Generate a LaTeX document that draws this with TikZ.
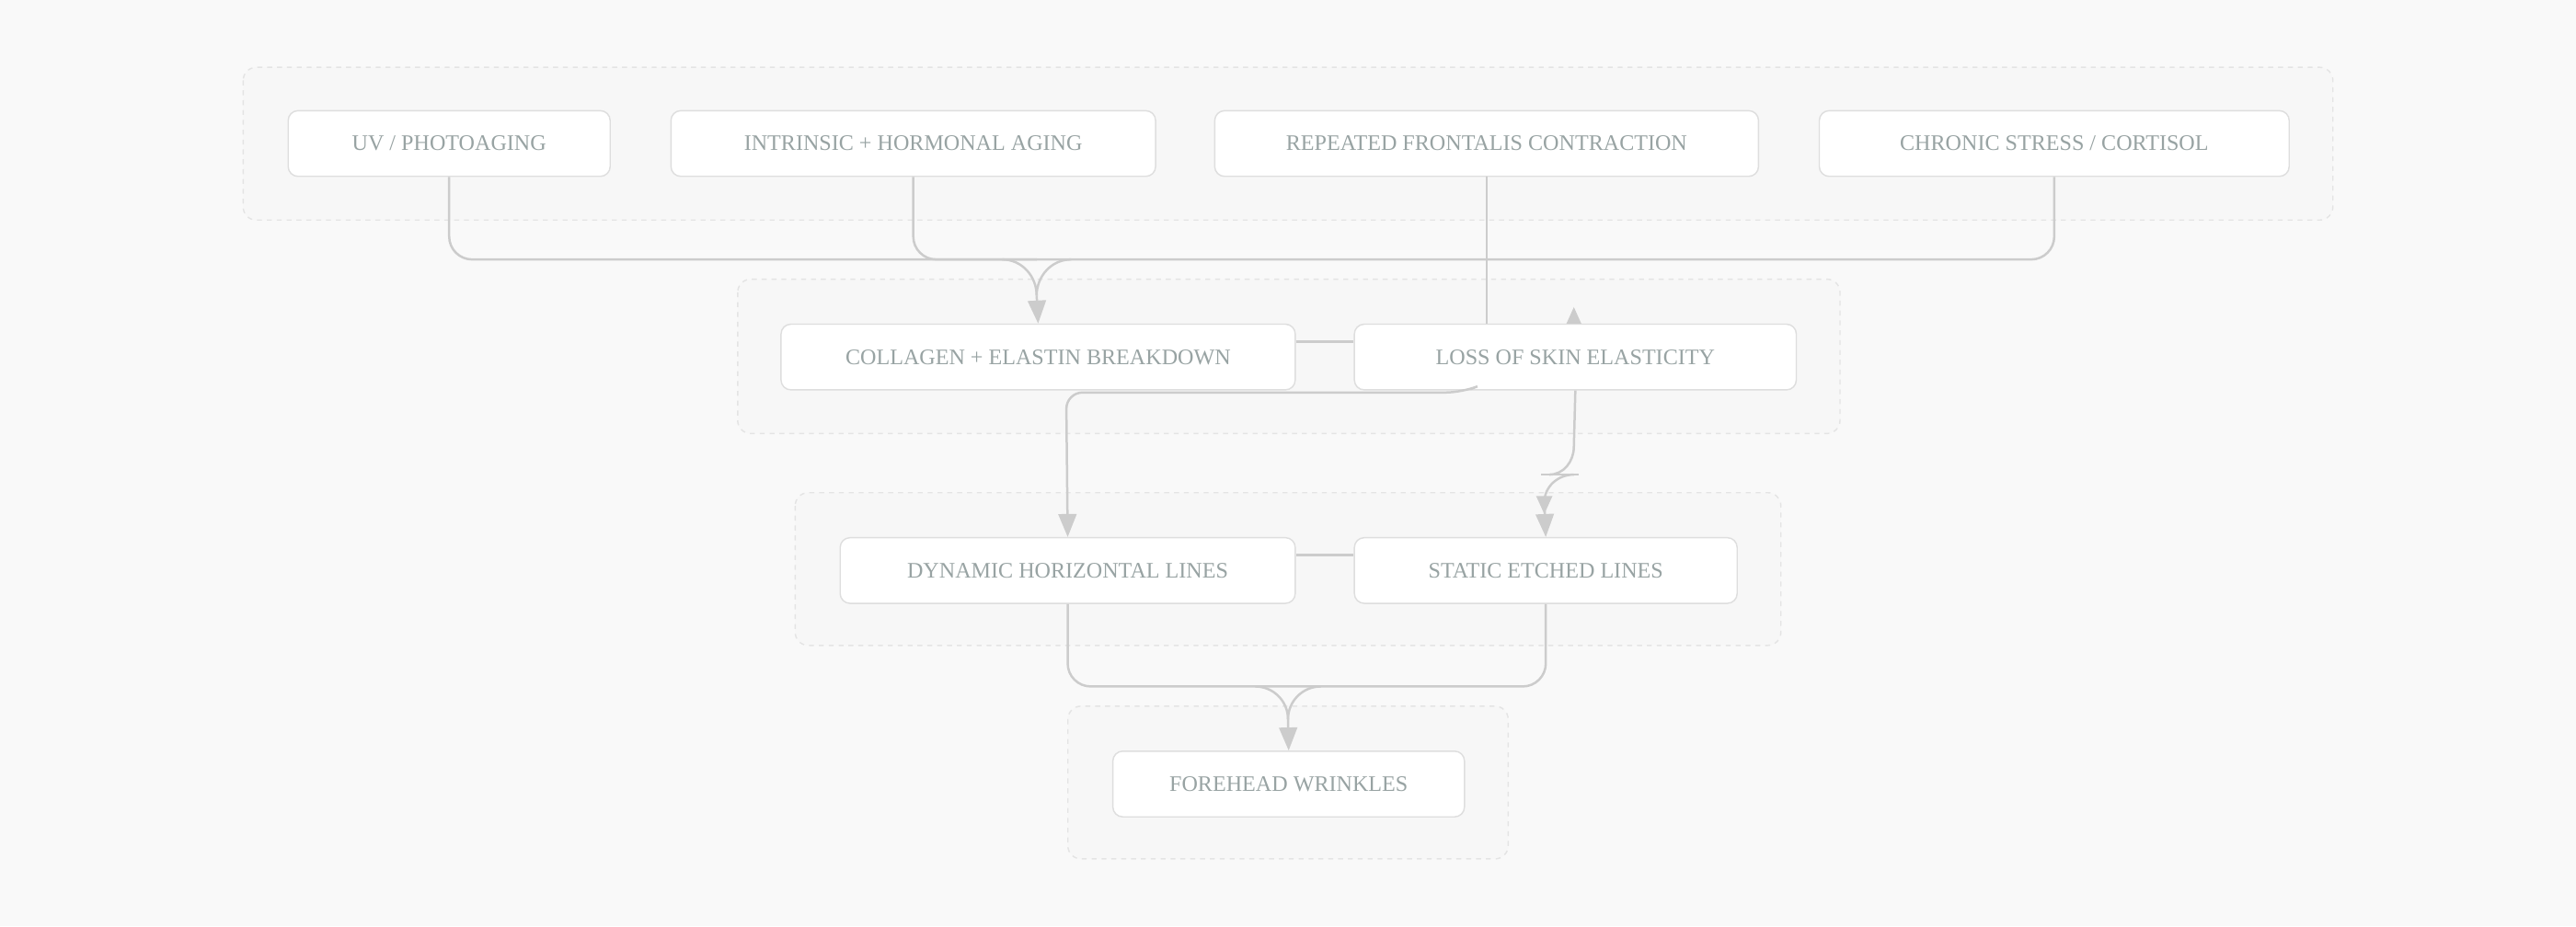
\documentclass[tikz,border=0pt]{standalone}
\usepackage{fontspec}
\setmainfont{Liberation Serif}
\usetikzlibrary{arrows.meta}
\definecolor{bg}{HTML}{F9F9F9}
\definecolor{cl}{HTML}{F7F7F7}
\definecolor{clb}{HTML}{E4E4E4}
\definecolor{bxb}{HTML}{DEDEDE}
\definecolor{tx}{HTML}{98A3A3}
\definecolor{ln}{HTML}{CCCCCC}
\begin{document}
\begin{tikzpicture}[x=1pt,y=-1pt,
 clu/.style={draw=clb,fill=cl,dashed,rounded corners=8pt,line width=0.8pt},
 box/.style={draw=bxb,fill=white,rounded corners=6pt,line width=0.8pt,text=tx,font=\fontsize{13.5}{15}\selectfont,anchor=north west,inner sep=0pt,align=center},
 ed/.style={draw=ln,line width=1.4pt},
 tip/.style={-{Triangle[length=14pt,width=11pt]}}]
\fill[bg] (0,0) rectangle (1568,564);
\useasboundingbox (0,0) rectangle (1568,564);
\draw[clu] (148,41) rectangle (1420,134);
\draw[clu] (449,170) rectangle (1120,264);
\draw[clu] (484,300) rectangle (1084,393);
\draw[clu] (650,430) rectangle (918,523);
\newcommand{\bx}[5]{\node[box,minimum width=#4pt,minimum height=40pt] (#1) at (#2,#3) {#5};}
\bx{uv}{175}{67}{196}{UV / PHOTOAGING}
\bx{int}{408}{67}{295}{INTRINSIC + HORMONAL AGING}
\bx{rep}{739}{67}{331}{REPEATED FRONTALIS CONTRACTION}
\bx{chr}{1107}{67}{286}{CHRONIC STRESS / CORTISOL}
\bx{col}{475}{197}{313}{COLLAGEN + ELASTIN BREAKDOWN}
\bx{los}{824}{197}{269}{LOSS OF SKIN ELASTICITY}
\bx{dyn}{511}{327}{277}{DYNAMIC HORIZONTAL LINES}
\bx{sta}{824}{327}{233}{STATIC ETCHED LINES}
\bx{for}{677}{457}{214}{FOREHEAD WRINKLES}
% top merge
\draw[ed,rounded corners=14pt] (uv.south) |- (631,158);
\draw[ed,rounded corners=14pt] (int.south) |- (631,158);
\draw[ed,rounded corners=14pt] (chr.south) |- (631,158);
\draw[ed] (610,158) to[out=0,in=90] (631,180);
\draw[ed] (652,158) to[out=180,in=90] (631,180);
\draw[ed,tip] (631,180) -- (col.north);
\draw[ed] (rep.south) -- (rep.south |- los.north);
\draw[ed] (col.east |- 0,208) -- (los.west |- 0,208);
\draw[ed,tip,rounded corners=10pt] (895,237) -- (890,239) -- (649,239) -- (dyn.north);
\draw[ed] (los.south) -- (958,272) to[out=-90,in=0] (943,289);
\draw[ed] (938,289) -- (961,289);
\draw[ed] (958,289) to[out=180,in=90] (940,306);
\draw[ed,tip] (940,306) -- (sta.north);
\fill[ln] (940,313) -- (935,302) -- (945,302) -- cycle;
\fill[ln] (958,187) -- (953.5,197) -- (962.5,197) -- cycle;
\draw[ed] (dyn.east |- 0,338) -- (sta.west |- 0,338);
\draw[ed,rounded corners=14pt] (dyn.south) |- (784,418);
\draw[ed,rounded corners=14pt] (sta.south) |- (784,418);
\draw[ed] (764,418) to[out=0,in=90] (784,438);
\draw[ed] (804,418) to[out=180,in=90] (784,438);
\draw[ed,tip] (784,438) -- (for.north);
\end{tikzpicture}
\end{document}
